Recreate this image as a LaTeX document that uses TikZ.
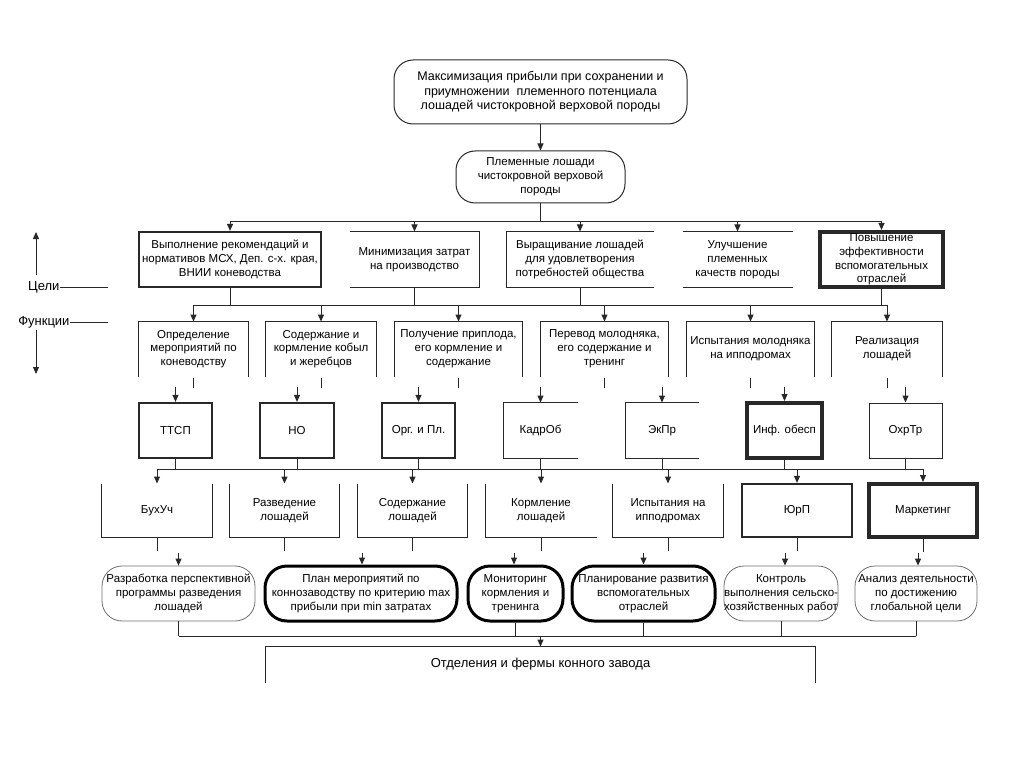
\documentclass[tikz,border=0pt]{standalone}
\usepackage{fontspec}
\setmainfont{Liberation Sans}
\usetikzlibrary{arrows.meta}
\definecolor{lineg}{RGB}{40,40,40}
\definecolor{thing}{RGB}{110,110,110}

\begin{document}
\begin{tikzpicture}[x=1pt,y=1pt,yscale=-1,line width=1pt,
  >={Triangle[width=6pt,length=7pt]},
  txt/.style={align=center,inner sep=0pt,font=\fontsize{11.5}{13.8}\selectfont},
  bigtxt/.style={txt,font=\fontsize{13}{15}\selectfont},
  box/.style={txt,draw=lineg,line width=1pt},
  boxmid/.style={box,line width=2.2pt},
  boxfat/.style={box,line width=4pt},
  term/.style={box,rounded corners=19pt},
  termthin/.style={txt,draw=thing,line width=0.8pt,rounded corners=20pt},
  termfat/.style={txt,draw=black,line width=3pt,rounded corners=22pt}]
\useasboundingbox (0,0) rectangle (1024,767);

%% top of the tree
% Text Node
\draw (540.5,92) node (maxprofit) [term,minimum width=293,minimum height=64,font=\fontsize{12.5}{14.3}\selectfont] {Максимизация прибыли при сохранении и\\приумножении \ племенного потенциала\\лошадей чистокровной верховой породы};
% Text Node
\draw (540.5,177) node (breed) [term,minimum width=169,minimum height=52] {Племенные лошади\\чистокровной верховой\\породы};
\draw [draw=lineg,->] (maxprofit) -- (breed);

%% goals
\draw (230,259.5) node (gRec) [boxmid,minimum width=182,minimum height=55] {Выполнение рекомендаций и\\нормативов МСХ, Деп. с-х. края,\\ВНИИ коневодства};
\draw (414.5,259.5) node (gCost) [txt,minimum width=129,minimum height=55] {Минимизация затрат\\на производство};
\draw (580,259.5) node (gGrow) [txt,minimum width=146,minimum height=55] {Выращивание лошадей\\для удовлетворения\\потребностей общества};
\draw (737.5,259.5) node (gBreed) [txt,minimum width=109,minimum height=55] {Улучшение\\племенных\\качеств породы};
\draw (881.5,259.5) node (gAux) [boxfat,minimum width=123,minimum height=55] {Повышение\\эффективности\\вспомогательных\\отраслей};
% open sides
\draw [draw=lineg] (gCost.north west) -| (gCost.south east) -- (gCost.south west);
\draw [draw=lineg] (gGrow.north east) -| (gGrow.south west) -- (gGrow.south east);
\draw [draw=lineg] (gBreed.north west) -- (gBreed.north east) (gBreed.south west) -- (gBreed.south east);

\coordinate (busA) at (540.5,222);
\draw [draw=lineg] (breed.south) -- (busA);
\draw [draw=lineg] (gRec.north |- busA) -- (gAux.north |- busA);
\draw [draw=lineg,->] (gRec.north |- busA) -- (gRec.north);
\draw [draw=lineg,->] (gCost.north |- busA) -- (gCost.north);
\draw [draw=lineg,->] (gGrow.north |- busA) -- (gGrow.north);
\draw [draw=lineg,->] (gBreed.north |- busA) -- (gBreed.north);
\draw [draw=lineg,->] (gAux.north |- busA) -- (gAux.north);

%% side labels
\draw (60,287) node (cel) [bigtxt,anchor=east] {Цели};
\draw [draw=lineg] (cel.east) -- ++(48,0);
\coordinate (celLo) at (36,275);
\coordinate (celHi) at (36,232);
\draw [draw=lineg,->] (celLo) -- (celHi);
\draw (70,322) node (fun) [bigtxt,anchor=east] {Функции};
\draw [draw=lineg] (fun.east) -- ++(38,0);
\coordinate (funHi) at (36,330);
\coordinate (funLo) at (36,374);
\draw [draw=lineg,->] (funHi) -- (funLo);

%% functions
\draw (193.5,349) node (fPlan) [txt,minimum width=109,minimum height=54] {Определение\\мероприятий по\\коневодству};
\draw (321,349) node (fMare) [txt,minimum width=110,minimum height=54] {Содержание и\\кормление кобыл\\и жеребцов};
\draw (458.5,349) node (fFoal) [txt,minimum width=127,minimum height=54] {Получение приплода,\\его кормление и\\содержание};
\draw (604.5,349) node (fYoung) [txt,minimum width=127,minimum height=54] {Перевод молодняка,\\его содержание и\\тренинг};
\draw (750.5,349) node (fTest) [txt,minimum width=127,minimum height=54] {Испытания молодняка\\на ипподромах};
\draw (887,349) node (fSale) [txt,minimum width=110,minimum height=54] {Реализация\\лошадей};
\draw [draw=lineg] (fPlan.south west) |- (fPlan.north east) -- (fPlan.south east);
\draw [draw=lineg] (fMare.south west) |- (fMare.north east) -- (fMare.south east);
\draw [draw=lineg] (fFoal.south west) |- (fFoal.north east) -- (fFoal.south east);
\draw [draw=lineg] (fYoung.south west) |- (fYoung.north east) -- (fYoung.south east);
\draw [draw=lineg] (fTest.south west) |- (fTest.north east) -- (fTest.south east);
\draw [draw=lineg] (fSale.south west) |- (fSale.north east) -- (fSale.south east);

\coordinate (busB) at (540,305);
\draw [draw=lineg] (gRec.south) -- (gRec.south |- busB);
\draw [draw=lineg] (gCost.south) -- (gCost.south |- busB);
\draw [draw=lineg] (gGrow.south) -- (gGrow.south |- busB);
\draw [draw=lineg] (gAux.south) -- (gAux.south |- busB);
\draw [draw=lineg] (fPlan.north |- busB) -- (fSale.north |- busB);
\draw [draw=lineg,->] (fPlan.north |- busB) -- (fPlan.north);
\draw [draw=lineg,->] (fMare.north |- busB) -- (fMare.north);
\draw [draw=lineg,->] (fFoal.north |- busB) -- (fFoal.north);
\draw [draw=lineg,->] (fYoung.north |- busB) -- (fYoung.north);
\draw [draw=lineg,->] (fTest.north |- busB) -- (fTest.north);
\draw [draw=lineg,->] (fSale.north |- busB) -- (fSale.north);
% short stubs under the functions
\draw [draw=lineg] (fPlan.south) ++(0,1) -- ++(0,10);
\draw [draw=lineg] (fMare.south) ++(0,1) -- ++(0,10);
\draw [draw=lineg] (fFoal.south) ++(0,1) -- ++(0,10);
\draw [draw=lineg] (fYoung.south) ++(0,1) -- ++(0,10);
\draw [draw=lineg] (fTest.south) ++(0,1) -- ++(0,10);
\draw [draw=lineg] (fSale.south) ++(0,1) -- ++(0,10);

%% services
\draw (175.5,430.5) node (uTTSP) [boxmid,minimum width=73,minimum height=55] {ТТСП};
\draw (297,430.5) node (uNO) [boxmid,minimum width=74,minimum height=55] {НО};
\draw (418.5,430.5) node (uOrg) [boxmid,minimum width=73,minimum height=55] {Орг. и Пл.};
\draw (540.5,430.5) node (uKadr) [txt,minimum width=73,minimum height=55] {КадрОб};
\draw (662,430.5) node (uEk) [txt,minimum width=72,minimum height=55] {ЭкПр};
\draw (784.5,430.5) node (uInf) [boxfat,minimum width=75,minimum height=55] {Инф. обесп};
\draw (905.5,430.5) node (uOhr) [box,minimum width=73,minimum height=55] {ОхрТр};
\draw [draw=lineg] (uKadr.north east) -| (uKadr.south west) -- (uKadr.south east);
\draw [draw=lineg] (uEk.north east) -| (uEk.south west) -- (uEk.south east);

\coordinate (inTTSP) at (175.5,387);
\coordinate (inNO) at (297,387);
\coordinate (inOrg) at (418.5,387);
\coordinate (inKadr) at (540.5,387);
\coordinate (inEk) at (662,387);
\coordinate (inInf) at (784.5,387);
\coordinate (inOhr) at (905.5,387);
\draw [draw=lineg,->] (inTTSP) -- (uTTSP.north);
\draw [draw=lineg,->] (inNO) -- (uNO.north);
\draw [draw=lineg,->] (inOrg) -- (uOrg.north);
\draw [draw=lineg,->] (inKadr) -- (uKadr.north);
\draw [draw=lineg,->] (inEk) -- (uEk.north);
\draw [draw=lineg,->] (inInf) -- (uInf.north);
\draw [draw=lineg,->] (inOhr) -- (uOhr.north);

%% departments
\draw (157,510.5) node (dBuh) [txt,minimum width=110,minimum height=53] {БухУч};
\draw (284.5,510.5) node (dRazv) [txt,minimum width=109,minimum height=53] {Разведение\\лошадей};
\draw (412.5,510.5) node (dSod) [txt,minimum width=109,minimum height=53] {Содержание\\лошадей};
\draw (541,510.5) node (dKorm) [txt,minimum width=110,minimum height=53] {Кормление\\лошадей};
\draw (668,510.5) node (dIsp) [txt,minimum width=110,minimum height=53] {Испытания на\\ипподромах};
\draw (797,510.5) node (dJur) [boxmid,minimum width=110,minimum height=53] {ЮрП};
\draw (923,510.5) node (dMark) [boxfat,minimum width=108,minimum height=53] {Маркетинг};
\draw [draw=lineg] (dBuh.north west) |- (dBuh.south east) -- (dBuh.north east);
\draw [draw=lineg] (dRazv.north west) |- (dRazv.south east) -- (dRazv.north east);
\draw [draw=lineg] (dSod.north west) |- (dSod.south east) -- (dSod.north east);
\draw [draw=lineg] (dKorm.north west) |- (dKorm.south east);
\draw [draw=lineg] (dIsp.north west) |- (dIsp.south east) -- (dIsp.north east);

\coordinate (busC) at (540,469);
\draw [draw=lineg] (uTTSP.south) -- (uTTSP.south |- busC);
\draw [draw=lineg] (uNO.south) -- (uNO.south |- busC);
\draw [draw=lineg] (uOrg.south) -- (uOrg.south |- busC);
\draw [draw=lineg] (uKadr.south) -- (uKadr.south |- busC);
\draw [draw=lineg] (uEk.south) -- (uEk.south |- busC);
\draw [draw=lineg] (uInf.south) -- (uInf.south |- busC);
\draw [draw=lineg] (uOhr.south) -- (uOhr.south |- busC);
\draw [draw=lineg] (dBuh.north |- busC) -- (dMark.north |- busC);
\draw [draw=lineg,->] (dBuh.north |- busC) -- (dBuh.north);
\draw [draw=lineg,->] (dRazv.north |- busC) -- (dRazv.north);
\draw [draw=lineg,->] (dSod.north |- busC) -- (dSod.north);
\draw [draw=lineg,->] (dKorm.north |- busC) -- (dKorm.north);
\draw [draw=lineg,->] (dIsp.north |- busC) -- (dIsp.north);
\draw [draw=lineg,->] (dJur.north |- busC) -- (dJur.north);
\draw [draw=lineg,->] (dMark.north |- busC) -- (dMark.north);
% short stubs under the departments
\draw [draw=lineg] (dBuh.south) -- ++(0,13);
\draw [draw=lineg] (dRazv.south) -- ++(0,13);
\draw [draw=lineg] (dSod.south) -- ++(0,13);
\draw [draw=lineg] (dKorm.south) -- ++(0,13);
\draw [draw=lineg] (dIsp.south) -- ++(0,13);
\draw [draw=lineg] (dJur.south) -- ++(0,13);
\draw [draw=lineg] (dMark.south) -- ++(0,13);

%% tasks
\draw (178.5,593.5) node (tProg) [termthin,minimum width=153,minimum height=55] {Разработка перспективной\\программы разведения\\лошадей};
\draw (361,593.5) node (tPlan) [termfat,minimum width=192,minimum height=55] {План мероприятий по\\коннозаводству по критерию max\\прибыли при min затратах};
\draw (515.5,593.5) node (tMon) [termfat,minimum width=95,minimum height=55] {Мониторинг\\кормления и\\тренинга};
\draw (643.5,593.5) node (tAux) [termfat,minimum width=143,minimum height=55] {Планирование развития\\вспомогательных\\отраслей};
\draw (781,593.5) node (tCtrl) [termthin,minimum width=112,minimum height=55] {Контроль\\выполнения сельско-\\хозяйственных работ};
\draw (916,593.5) node (tAn) [termthin,minimum width=122,minimum height=55] {Анализ деятельности\\по достижению\\глобальной цели};

\coordinate (inProg) at (178.5,553);
\coordinate (inPlan) at (362,553);
\coordinate (inMon) at (514,553);
\coordinate (inAux) at (643.5,553);
\coordinate (inCtrl) at (785,553);
\coordinate (inAn) at (918,553);
\draw [draw=lineg,->] (inProg) -- (inProg |- tProg.north);
\draw [draw=lineg,->] (inPlan) -- (inPlan |- tPlan.north);
\draw [draw=lineg,->] (inMon) -- (inMon |- tMon.north);
\draw [draw=lineg,->] (inAux) -- (inAux |- tAux.north);
\draw [draw=lineg,->] (inCtrl) -- (inCtrl |- tCtrl.north);
\draw [draw=lineg,->] (inAn) -- (inAn |- tAn.north);

%% farms
\draw (540.5,664.5) node (farm) [bigtxt,minimum width=549,minimum height=35] {Отделения и фермы конного завода};
\draw [draw=lineg] (farm.south west) |- (farm.north east) -- (farm.south east);

\coordinate (busD) at (540.5,636);
\draw [draw=lineg] (tProg.south) -- (tProg.south |- busD);
\draw [draw=lineg] (tMon.south) -- (tMon.south |- busD);
\draw [draw=lineg] (tAux.south) -- (tAux.south |- busD);
\draw [draw=lineg] (tCtrl.south) -- (tCtrl.south |- busD);
\draw [draw=lineg] (tAn.south) -- (tAn.south |- busD);
\draw [draw=lineg] (tProg.south |- busD) -- (tAn.south |- busD);
\draw [draw=lineg,->] (busD) -- (farm.north);

\end{tikzpicture}
\end{document}
